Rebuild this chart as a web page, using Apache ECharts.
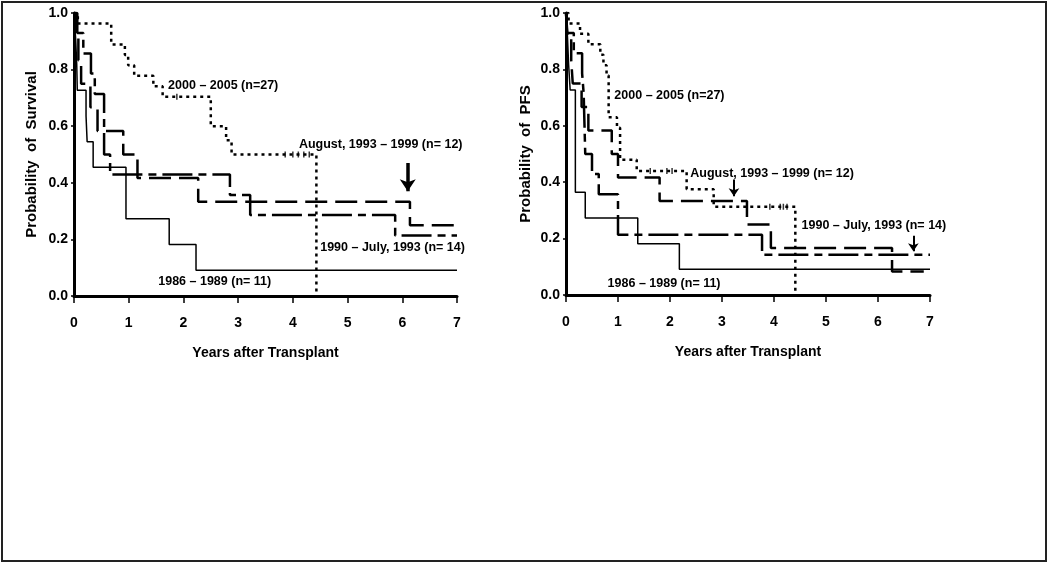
<!DOCTYPE html>
<html><head><meta charset="utf-8">
<script src="https://cdn.jsdelivr.net/npm/echarts@6/dist/echarts.min.js"></script>
<style>html,body{margin:0;padding:0;background:#fff}#c{width:1050px;height:564px}</style>
</head><body><div id="c"></div>
<script>
// ---------- data ----------
const xTicks = [0, 1, 2, 3, 4, 5, 6, 7];
const yTicks = [0.0, 0.2, 0.4, 0.6, 0.8, 1.0];
const groupNames = ['2000 – 2005 (n=27)', 'August, 1993 – 1999 (n= 12)', '1990 – July, 1993 (n= 14)', '1986 – 1989 (n= 11)'];

// Overall survival (left panel): [years, probability]
const os2000 = [[0,1],[0.07,0.963],[0.68,0.889],[0.93,0.852],[0.99,0.815],[1.1,0.778],[1.45,0.741],[1.62,0.704],[2.5,0.6],[2.78,0.55],[2.88,0.5],[4.43,0]];
const os1993 = [[0,1],[0.04,0.917],[0.08,0.833],[0.13,0.75],[0.3,0.667],[0.43,0.583],[0.9,0.5],[1.16,0.417],[2.27,0.333],[6.14,0.25],[7,0.25]];
const os1990 = [[0,1],[0.06,0.929],[0.17,0.857],[0.31,0.786],[0.38,0.714],[0.55,0.5],[0.66,0.429],[2.85,0.357],[3.22,0.286],[5.87,0.214],[7,0.214]];
const os1986 = [[0,1],[0.03,0.909],[0.05,0.818],[0.06,0.727],[0.22,0.636],[0.24,0.545],[0.35,0.455],[0.95,0.273],[1.74,0.182],[2.23,0.091],[7,0.091]];
const osCensor2000 = [[1.88,0.704],[3.86,0.5],[4.0,0.5],[4.1,0.5],[4.2,0.5],[4.3,0.5]];
const osLabelAt = [[1.72,0.742],[4.11,0.534],[4.5,0.17],[1.54,0.05]];
const osArrows = [[[6.1,0.47],[6.1,0.37]]];

// Progression-free survival (right panel)
const pfs2000 = [[0,1],[0.05,0.963],[0.27,0.926],[0.43,0.889],[0.66,0.852],[0.72,0.815],[0.78,0.778],[0.82,0.63],[0.98,0.593],[1.04,0.48],[1.36,0.44],[2.32,0.375],[2.84,0.313],[4.41,0]];
const pfs1993 = [[0,1],[0.03,0.917],[0.1,0.833],[0.13,0.75],[0.3,0.667],[0.43,0.583],[0.88,0.5],[1.0,0.417],[1.8,0.333],[3.48,0.25],[3.94,0.167],[6.27,0.083],[6.88,0.083]];
const pfs1990 = [[0,1],[0.02,0.929],[0.15,0.857],[0.31,0.786],[0.34,0.714],[0.37,0.5],[0.5,0.429],[0.63,0.357],[1.0,0.214],[3.77,0.143],[7,0.143]];
const pfs1986 = [[0,1],[0.03,0.909],[0.05,0.818],[0.08,0.727],[0.18,0.364],[0.37,0.273],[1.38,0.182],[2.18,0.091],[7,0.091]];
const pfsCensor2000 = [[1.62,0.44],[1.94,0.44],[2.04,0.44],[3.92,0.313],[4.12,0.313],[4.18,0.313],[4.25,0.313]];
const pfsLabelAt = [[0.93,0.709],[2.39,0.432],[4.53,0.245],[0.8,0.041]];
const pfsArrows = [[[3.23,0.41],[3.23,0.35]],[[6.68,0.21],[6.68,0.155]]];

// ---------- styles ----------
const FONT = "'Liberation Sans Narrow','Arial Narrow','Liberation Sans',Arial,sans-serif";
const lineStyles = [
  {width: 2.5, type: [3, 4]},
  {width: 2.5, type: [22, 8]},
  {width: 2.5, type: [30, 6, 8, 6]},
  {width: 1.5, type: 'solid'}
];

function axisPair(gi, yName, yGap) {
  return {
    x: {
      type: 'value', gridIndex: gi, min: 0, max: 7, interval: 1, offset: 2,
      name: 'Years after Transplant', nameLocation: 'middle', nameGap: 48,
      nameTextStyle: {fontFamily: FONT, fontWeight: 'bold', fontSize: 14, color: '#000'},
      axisLine: {show: true, lineStyle: {color: '#000', width: 3}},
      axisTick: {show: true, length: 7, lineStyle: {color: '#000', width: 1.5}},
      axisLabel: {margin: 18, fontFamily: FONT, fontWeight: 'bold', fontSize: 14, color: '#000',
        customValues: xTicks},
      splitLine: {show: false}
    },
    y: {
      type: 'value', gridIndex: gi, min: 0, max: 1, interval: 0.2, offset: 2,
      name: yName, nameLocation: 'middle', nameGap: yGap, nameRotate: 90,
      nameTextStyle: {fontFamily: FONT, fontWeight: 'bold', fontSize: 15, color: '#000'},
      axisLine: {show: true, lineStyle: {color: '#000', width: 3}},
      axisTick: {show: true, length: 3, lineStyle: {color: '#000', width: 1.5}},
      axisLabel: {margin: 4, fontFamily: FONT, fontWeight: 'bold', fontSize: 14, color: '#000',
        formatter: v => v.toFixed(1)},
      splitLine: {show: false}
    }
  };
}
const a0 = axisPair(0, 'Probability  of  Survival', 33);
const a1 = axisPair(1, 'Probability  of  PFS', 31);

function panelSeries(gi, curves, censor, labelAt, arrows, arrowW, arrowSize) {
  const s = [];
  curves.forEach((d, i) => {
    s.push({type: 'line', xAxisIndex: gi, yAxisIndex: gi, step: 'end', data: d,
      showSymbol: false, silent: true, animation: false,
      lineStyle: Object.assign({color: '#000'}, lineStyles[i])});
  });
  s.push({type: 'scatter', xAxisIndex: gi, yAxisIndex: gi, data: censor, symbol: 'rect',
    symbolSize: [1.5, 6], itemStyle: {color: '#000'}, silent: true, animation: false});
  s.push({type: 'scatter', xAxisIndex: gi, yAxisIndex: gi, silent: true, animation: false,
    symbolSize: 0, itemStyle: {color: '#000'},
    data: labelAt.map((p, i) => ({value: p, name: groupNames[i]})),
    label: {show: true, position: 'right', distance: 0, formatter: p => p.name,
      fontFamily: FONT, fontWeight: 'bold', fontSize: 12.5, color: '#000',
      textBorderWidth: 0, textBorderColor: 'transparent', opacity: 1}});
  s.push({type: 'lines', coordinateSystem: 'cartesian2d', xAxisIndex: gi, yAxisIndex: gi,
    silent: true, animation: false, symbol: ['none', 'arrow'], symbolSize: arrowSize,
    lineStyle: {color: '#000', width: arrowW, opacity: 1},
    data: arrows.map(c => ({coords: c}))});
  return s;
}

const chart = echarts.init(document.getElementById('c'), null, {renderer: 'canvas'});
chart.setOption({
  backgroundColor: '#fff',
  animation: false,
  graphic: [{type: 'rect', shape: {x: 2, y: 2, width: 1044, height: 559},
    style: {fill: 'none', stroke: '#222', lineWidth: 2}, silent: true}],
  grid: [
    {left: 74, top: 13, width: 383, height: 283},
    {left: 566, top: 13, width: 364, height: 282}
  ],
  xAxis: [a0.x, a1.x],
  yAxis: [a0.y, a1.y],
  series: [].concat(
    panelSeries(0, [os2000, os1993, os1990, os1986], osCensor2000, osLabelAt, osArrows, 3.5, 12),
    panelSeries(1, [pfs2000, pfs1993, pfs1990, pfs1986], pfsCensor2000, pfsLabelAt, pfsArrows, 2, 8)
  )
});
</script></body></html>
